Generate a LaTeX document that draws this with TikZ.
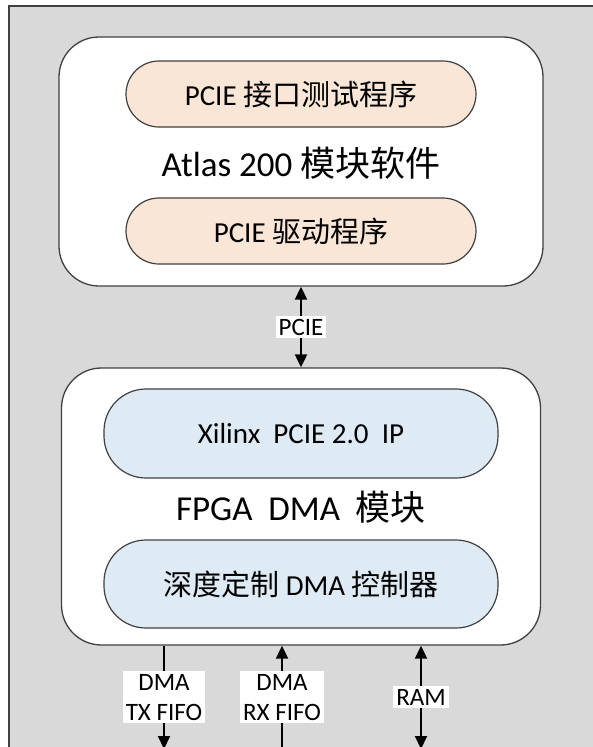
\documentclass[tikz,border=0pt]{standalone}
\usepackage{fontspec}
\setmainfont{Carlito}
\newfontfamily\cjk{Noto Sans CJK SC}
\usepackage{tikz}
\usetikzlibrary{arrows.meta}
\definecolor{bggray}{RGB}{217,217,217}
\definecolor{edgegray}{RGB}{64,64,64}
\definecolor{swfill}{RGB}{250,230,214}
\definecolor{hwfill}{RGB}{222,234,244}
\newcommand{\zh}[1]{{\cjk #1}}

\begin{document}
\begin{tikzpicture}[x=1pt,y=-1pt,
    modbox/.style={draw=edgegray,line width=1.3pt,fill=white,rounded corners=40pt},
    pill/.style={draw=edgegray,line width=1.2pt,rounded corners=#1,font=\fontsize{29}{35}\selectfont},
    title/.style={font=\fontsize{35}{42}\selectfont},
    link/.style={line width=2pt,{Triangle[length=13pt,width=12pt]}-{Triangle[length=13pt,width=12pt]}},
    tag/.style={fill=white,inner xsep=3pt,inner ysep=3pt,align=center,font=\fontsize{25}{30}\selectfont}]
    \useasboundingbox (0,0) rectangle (593,747);
    \clip (0,0) rectangle (593,747);
    \draw[edgegray,line width=1.5pt,fill=bggray] (9,6) rectangle (620,780);
    % software side
    \node[modbox,minimum width=484pt,minimum height=249pt] (sw) at (301,161.5) {};
    \node[pill=33pt,fill=swfill,minimum width=350pt,minimum height=66pt] (test) at (301,94) {PCIE \zh{接口测试程序}};
    \node[title] (swname) at (301,163) {Atlas 200 \zh{模块软件}};
    \node[pill=33pt,fill=swfill,minimum width=350pt,minimum height=66pt] (drv) at (301,231) {PCIE \zh{驱动程序}};
    % fpga side
    \node[modbox,minimum width=479pt,minimum height=277pt] (fpga) at (301,506.5) {};
    \node[pill=42pt,fill=hwfill,minimum width=394pt,minimum height=89pt] (ip) at (301,433.5) {Xilinx\ \ PCIE 2.0\ \ IP};
    \node[title] (fpganame) at (301,507) {FPGA\ \ DMA\ \ \zh{模块}};
    \node[pill=42pt,fill=hwfill,minimum width=394pt,minimum height=88pt] (ctrl) at (301,584) {\zh{深度定制} DMA \zh{控制器}};
    % links
    \coordinate (tx) at (164,749);
    \coordinate (rx) at (282,749);
    \coordinate (ram) at (421,749);
    \draw[link] (sw) -- (fpga) node[tag,midway] {PCIE};
    \draw[link,{}-{Triangle[length=13pt,width=12pt]}] (fpga.south -| tx) -- (tx) node[tag,midway] {DMA\\TX FIFO};
    \draw[link,{Triangle[length=13pt,width=12pt]}-{}] (fpga.south -| rx) -- (rx) node[tag,midway] {DMA\\RX FIFO};
    \draw[link] (fpga.south -| ram) -- (ram) node[tag,midway] {RAM};
\end{tikzpicture}
\end{document}
